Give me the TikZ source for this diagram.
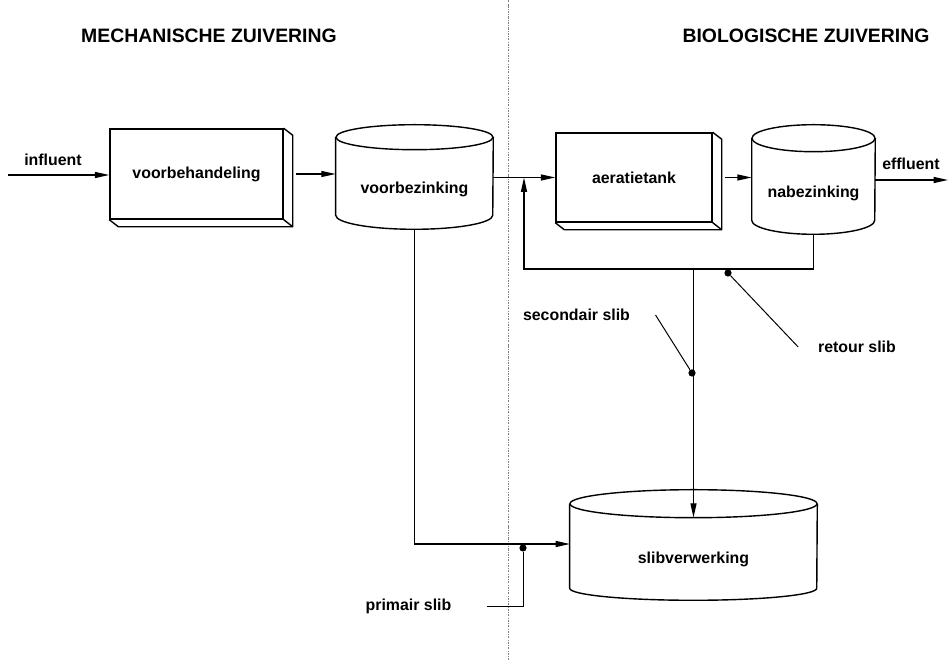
\documentclass[tikz,border=0pt]{standalone}
\usepackage{fontspec}
\setmainfont{Liberation Sans}
\usetikzlibrary{arrows.meta, positioning, calc}

\begin{document}
\begin{tikzpicture}[
    x=0.025cm, y=-0.025cm,
    title/.style={font=\bfseries\fontsize{13.8}{16}\selectfont},
    lbl/.style={font=\bfseries\fontsize{11.3}{13}\selectfont, inner sep=0pt},
    slab/.style={rectangle, draw, line width=1pt, inner sep=0pt, lbl},
    tank/.style={rectangle, inner sep=0pt, lbl},
    outline/.style={line width=1pt, line join=round},
    flow/.style={-{Triangle[length=3.6mm, width=1.5mm]}, line width=0.9pt},
    pointer/.style={line width=0.7pt},
    dot/.style={circle, fill, inner sep=0pt, minimum size=0.18cm},
    divider/.style={gray, line width=0.5pt, dash pattern=on 1.5pt off 1pt on 0.4pt off 1pt},
  ]
  \useasboundingbox (0,0) rectangle (950,661);
  % Headings and divider
  \node[title] (mech) at (209,36) {MECHANISCHE ZUIVERING};
  \node[title] (bio) at (806,36) {BIOLOGISCHE ZUIVERING};
  \draw[divider] (508,0) -- (508,661);
  % Boxes
  \node[slab, minimum width=4.325cm, minimum height=2.25cm] (vb) at (196.5,174) {voorbehandeling};
  \draw[outline] (vb.north east) -- ++(9,7) -- ([shift={(9,7)}]vb.south east) -- ([shift={(9,7)}]vb.south west) -- (vb.south west);
  \draw[outline] (vb.south east) -- ++(9,7);
  \node[slab, minimum width=3.9cm, minimum height=2.225cm] (aer) at (634,177.5) {aeratietank};
  \draw[outline] (aer.north east) -- ++(9,7) -- ([shift={(9,7)}]aer.south east) -- ([shift={(9,7)}]aer.south west) -- (aer.south west);
  \draw[outline] (aer.south east) -- ++(9,7);
  % Tanks
  \node[tank, minimum width=3.925cm, minimum height=1.975cm] (vz) at (414.5,189.5) {voorbezinking};
  \draw[outline] ([yshift=0.3125cm]vz.north) ellipse [x radius=1.9625cm, y radius=0.3125cm];
  \draw[outline] ([yshift=0.3125cm]vz.north west) -- ([yshift=0.35cm]vz.south west)
    arc[start angle=180, end angle=360, x radius=1.9625cm, y radius=0.35cm] -- ([yshift=0.3125cm]vz.north east);
  \node[tank, minimum width=3.075cm, minimum height=2.05cm] (nb) at (813.5,193) {nabezinking};
  \draw[outline] ([yshift=0.3375cm]nb.north) ellipse [x radius=1.5375cm, y radius=0.3375cm];
  \draw[outline] ([yshift=0.3375cm]nb.north west) -- ([yshift=0.35cm]nb.south west)
    arc[start angle=180, end angle=360, x radius=1.5375cm, y radius=0.35cm] -- ([yshift=0.3375cm]nb.north east);
  \node[tank, minimum width=6.175cm, minimum height=2.05cm] (sv) at (693.5,559) {slibverwerking};
  \draw[outline] ([yshift=0.35cm]sv.north) ellipse [x radius=3.0875cm, y radius=0.35cm];
  \draw[outline] ([yshift=0.35cm]sv.north west) -- ([yshift=0.3cm]sv.south west)
    arc[start angle=180, end angle=360, x radius=3.0875cm, y radius=0.3cm] -- ([yshift=0.35cm]sv.north east);
  % Flow labels
  \node[lbl] (inf) at (53,160) {influent};
  \node[lbl] (eff) at (911,164) {effluent};
  \node[lbl] (ps) at (408.5,606) {primair slib};
  \node[lbl] (ss) at (576.5,315) {secondair slib};
  \node[lbl] (rs) at (857,347) {retour slib};
  % Free ends and corners
  \coordinate (src) at (8,175);
  \coordinate (sink) at (948,180);
  \coordinate (rc) at (524,269);
  \coordinate (pin) at (570,544);
  % Main line
  \draw[flow] (src) -- (vb.west |- src);
  \draw[flow] ([xshift=9]vb.east) -- (vz.west |- vb.east);
  \draw[flow] (vz.east |- aer.west) -- (aer.west);
  \draw[flow] ([xshift=9]aer.east) -- (nb.west |- aer.east);
  \draw[flow] (nb.east |- sink) -- (sink);
  % Sludge lines
  \draw[flow] (nb.south) |- (rc) -- (rc |- aer.west);
  \draw[flow] (sv.north |- rc) -- (sv.north);
  \draw[flow] (vz.south) |- (pin);
  % Pointers
  \node[dot] (pdot) at (523,548) {};
  \node[dot] (sdot) at (692,373) {};
  \node[dot] (rdot) at (728,273) {};
  \draw[pointer] ([xshift=25]ps.east) -| (pdot);
  \draw[pointer] ([xshift=18]ss.east) -- (sdot);
  \draw[pointer] ([xshift=-14]rs.west) -- (rdot);
\end{tikzpicture}
\end{document}
